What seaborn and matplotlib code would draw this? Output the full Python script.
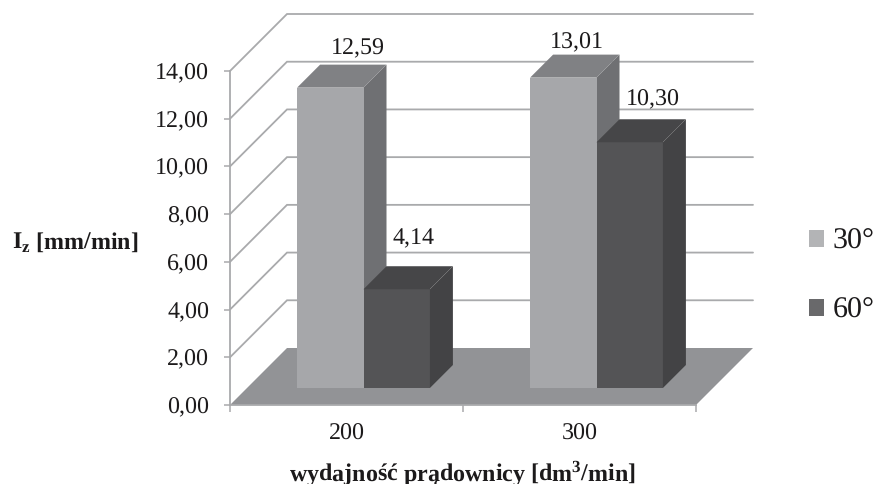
import matplotlib
matplotlib.use("Agg")
import matplotlib.pyplot as plt
import pandas as pd
import seaborn as sns
from matplotlib.patches import Polygon
from matplotlib.transforms import Affine2D

# Measured values
categories = ["200", "300"]
angles = ["30°", "60°"]
values_30 = [12.59, 13.01]
values_60 = [4.14, 10.30]
y_ticks = [0, 2, 4, 6, 8, 10, 12, 14]

sns.set_theme(style="white")
plt.rcParams["font.family"] = ["Liberation Serif", "DejaVu Serif"]
plt.rcParams["mathtext.fontset"] = "custom"
plt.rcParams["mathtext.bf"] = "Liberation Serif:bold"
plt.rcParams["mathtext.rm"] = "Liberation Serif"
plt.rcParams["text.hinting"] = "none"
plt.rcParams["text.hinting_factor"] = 1

W, H = 873, 484
GRID = "#a9aaac"
TEXT = "#1c1a1b"
FRONT = ["#a6a7aa", "#545456"]
TOP = ["#808184", "#464648"]
SIDE = ["#6f7073", "#434345"]
FLOOR = "#929396"
SWATCH = ["#b3b4b6", "#69696b"]

fig = plt.figure(figsize=(W / 100, H / 100), dpi=100, facecolor="white")
ax = fig.add_axes([230 / W, 1 - 405 / H, 466 / W, 334 / H])
ax.patch.set_alpha(0)

df = pd.DataFrame({
    "flow": categories * 2,
    "angle": [angles[0]] * 2 + [angles[1]] * 2,
    "value": values_30 + values_60,
})
sns.barplot(data=df, x="flow", y="value", hue="angle", palette=FRONT,
            width=0.57, gap=0, saturation=1, ax=ax, zorder=3, linewidth=0)

ax.set_xlim(-0.5, 1.5)
ax.set_ylim(0, 14)

# Pixel-to-data conversion for the oblique projection
px_x = 2 / 466
px_y = 14 / 334
wall_dx, wall_dy = 57 * px_x, 57 * px_y
bar_shift_x, bar_shift_y = 17 * px_x, 17 * px_y
bar_dx, bar_dy = 23 * px_x, 23 * px_y
x0, x1 = ax.get_xlim()

# Floor of the box
ax.add_patch(Polygon([(x0, 0), (x1, 0), (x1 + wall_dx, wall_dy), (x0 + wall_dx, wall_dy)],
                     closed=True, facecolor=FLOOR, edgecolor="none", zorder=1.5, clip_on=False))

# Gridlines run up the side wall and along the back wall
for v in y_ticks[1:]:
    ax.plot([x0, x0 + wall_dx, x1 + wall_dx],
            [v, v + wall_dy, v + wall_dy],
            color=GRID, lw=1.3, zorder=1, clip_on=False, solid_joinstyle="miter")

# Extrude each bar and push it into the box
label_offsets = [[(28, 16), (14, 12)], [(17, 28), (23, 20)]]
decimal = lambda v: f"{v:.2f}".replace(".", ",")
for s, container in enumerate(ax.containers):
    for c, patch in enumerate(container):
        left, w, h = patch.get_x(), patch.get_width(), patch.get_height()
        patch.set_clip_on(False)
        patch.set_transform(Affine2D().translate(bar_shift_x, bar_shift_y) + ax.transData)
        base = bar_shift_y
        lx, rx = left + bar_shift_x, left + w + bar_shift_x
        top = base + h
        ax.add_patch(Polygon([(rx, base), (rx + bar_dx, base + bar_dy),
                              (rx + bar_dx, top + bar_dy), (rx, top)],
                             closed=True, fc=SIDE[s], ec="none", zorder=2.9 + s * 0.1, clip_on=False))
        ax.add_patch(Polygon([(lx, top), (rx, top), (rx + bar_dx, top + bar_dy), (lx + bar_dx, top + bar_dy)],
                             closed=True, fc=TOP[s], ec="none", zorder=2.9 + s * 0.1, clip_on=False))
        ax.annotate(decimal(h), xy=((lx + rx) / 2, top + bar_dy),
                    xytext=label_offsets[s][c], textcoords="offset pixels",
                    ha="center", va="center", fontsize=17.5, color=TEXT, zorder=6,
                    annotation_clip=False)

# Axes furniture
sns.despine(ax=ax, top=True, right=True)
for side in ("left", "bottom"):
    ax.spines[side].set_color(GRID)
    ax.spines[side].set_linewidth(1.3)
    ax.spines[side].set_zorder(2)
ax.set_yticks(y_ticks)
ax.set_yticklabels([decimal(v) for v in y_ticks])
ax.set_xticks([0, 1])
ax.set_xticklabels(categories)
ax.set_xticks([-0.5, 0.5, 1.5], minor=True)
ax.tick_params(axis="y", left=True, length=4, width=1.1, color=GRID, pad=11,
               labelsize=17.5, labelcolor=TEXT)
ax.tick_params(axis="x", which="major", bottom=False, length=0, pad=13,
               labelsize=17.5, labelcolor=TEXT)
ax.tick_params(axis="x", which="minor", bottom=True, length=5, width=1.1, color=GRID)
ax.set_xlabel("")
ax.set_ylabel("")

fig.text(462 / W, 1 - 473 / H, r"wydajność prądownicy [dm$^{\mathbf{3}}$/min]",
         ha="center", va="center", fontsize=17.6, fontweight="bold", color=TEXT)
fig.text(75 / W, 1 - 243 / H, r"I$_{\mathbf{z}}$ [mm/min]",
         ha="center", va="center", fontsize=17.4, fontweight="bold", color=TEXT)

sns.move_legend(ax, "center left", bbox_to_anchor=(809 / W, 1 - 276 / H),
                bbox_transform=fig.transFigure, frameon=False, title=None, fontsize=21.5,
                borderaxespad=0, borderpad=0,
                handlelength=0.5, handleheight=0.5, handletextpad=0.28, labelspacing=1.4)
legend = ax.get_legend()
for handle, color in zip(legend.legend_handles, SWATCH):
    handle.set_facecolor(color)
for text in legend.get_texts():
    text.set_color(TEXT)

fig.savefig("out.png", dpi=100, facecolor="white")
